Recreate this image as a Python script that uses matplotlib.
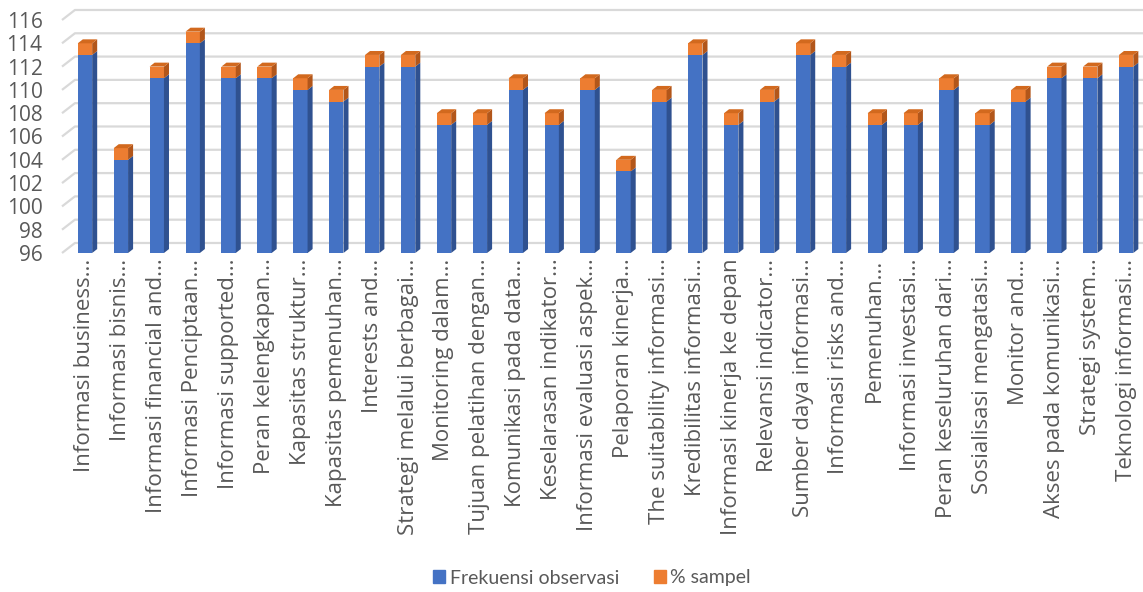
import matplotlib
matplotlib.use("Agg")
import matplotlib.pyplot as plt
from matplotlib.patches import Polygon
from matplotlib.patches import Patch

categories = [
    "Informasi business...", "Informasi bisnis...", "Informasi financial and...",
    "Informasi Penciptaan...", "Informasi supported...", "Peran kelengkapan...",
    "Kapasitas struktur...", "Kapasitas pemenuhan...", "Interests and...",
    "Strategi melalui berbagai...", "Monitoring dalam...", "Tujuan pelatihan dengan...",
    "Komunikasi pada data...", "Keselarasan indikator...", "Informasi evaluasi aspek...",
    "Pelaporan kinerja...", "The suitability informasi...", "Kredibilitas informasi...",
    "Informasi kinerja ke depan", "Relevansi indicator...", "Sumber daya informasi...",
    "Informasi risks and...", "Pemenuhan...", "Informasi investasi...",
    "Peran keseluruhan dari...", "Sosialisasi mengatasi...", "Monitor and...",
    "Akses pada komunikasi...", "Strategi system...", "Teknologi informasi...",
]
frekuensi = [113, 104, 111, 114, 111, 111, 110, 109, 112, 112, 107, 107, 110, 107, 110,
             103, 109, 113, 107, 109, 113, 112, 107, 107, 110, 107, 109, 111, 111, 112]
sampel = [1.0] * 30
y_ticks = [96, 98, 100, 102, 104, 106, 108, 110, 112, 114, 116]
series_names = ["Frekuensi observasi", "% sampel"]

BLUE, BLUE_SIDE = "#4472C4", "#2F5190"
ORANGE, ORANGE_SIDE, ORANGE_TOP = "#ED7D31", "#B2561A", "#D2691E"
GRID = "#D9D9D9"
TXT = "#595959"

W, H = 1143, 592
fig = plt.figure(figsize=(W / 100, H / 100), dpi=100)
ax_l, ax_b = 62 / W, 1 - 253 / H
ax = fig.add_axes([ax_l, ax_b, 1 - ax_l, 253 / H])
ymin = 96
ax.set_ylim(ymin, ymin + 253 / 11.65)
ax.set_xlim(-0.64, 29.47)
for s in ax.spines.values():
    s.set_visible(False)

n = len(categories)
xs = list(range(n))
bw = 0.40
dx, dy = 0.14, 0.34

# back wall gridlines with perspective diagonal
gdx, gdy = 0.36, 0.86
x0, x1 = ax.get_xlim()
for t in y_ticks:
    ax.plot([x0, x0 + gdx, x1], [t, t + gdy, t + gdy], color=GRID, lw=1.6,
            zorder=0, solid_capstyle="butt", clip_on=False)

tops_b = frekuensi
tops_o = [f + s for f, s in zip(frekuensi, sampel)]
for i in xs:
    xl, xr = i - bw / 2, i + bw / 2
    ax.bar(i, tops_b[i] - ymin, bottom=ymin, width=bw, color=BLUE, zorder=3)
    ax.add_patch(Polygon([(xr, ymin), (xr + dx, ymin + dy), (xr + dx, tops_b[i] + dy), (xr, tops_b[i])],
                         closed=True, color=BLUE_SIDE, zorder=3, lw=0))
    ax.bar(i, sampel[i], bottom=tops_b[i], width=bw, color=ORANGE, zorder=3)
    ax.add_patch(Polygon([(xr, tops_b[i]), (xr + dx, tops_b[i] + dy), (xr + dx, tops_o[i] + dy), (xr, tops_o[i])],
                         closed=True, color=ORANGE_SIDE, zorder=3, lw=0))
    ax.add_patch(Polygon([(xl, tops_o[i]), (xl + dx, tops_o[i] + dy), (xr + dx, tops_o[i] + dy), (xr, tops_o[i])],
                         closed=True, color=ORANGE_TOP, zorder=3, lw=0))

ax.set_yticks(y_ticks)
ax.set_yticklabels([str(t) for t in y_ticks], fontfamily="Open Sans", fontsize=15, color=TXT)
ax.tick_params(axis="y", length=0, pad=14)
ax.set_xticks(xs)
ax.set_xticklabels(categories, rotation=90, fontfamily="Open Sans", fontsize=16, color=TXT)
ax.tick_params(axis="x", length=0, pad=4)
ax.patch.set_visible(False)

handles = [Patch(color=BLUE), Patch(color=ORANGE)]
fig.legend(handles, series_names, loc="center", bbox_to_anchor=(592 / W, 1 - 578 / H),
           ncol=2, frameon=False, prop={"family": "Lato", "size": 14},
           labelcolor=TXT, handlelength=0.6, handleheight=0.6, handletextpad=0.25,
           columnspacing=1.8)

fig.savefig("out.png", dpi=100)
